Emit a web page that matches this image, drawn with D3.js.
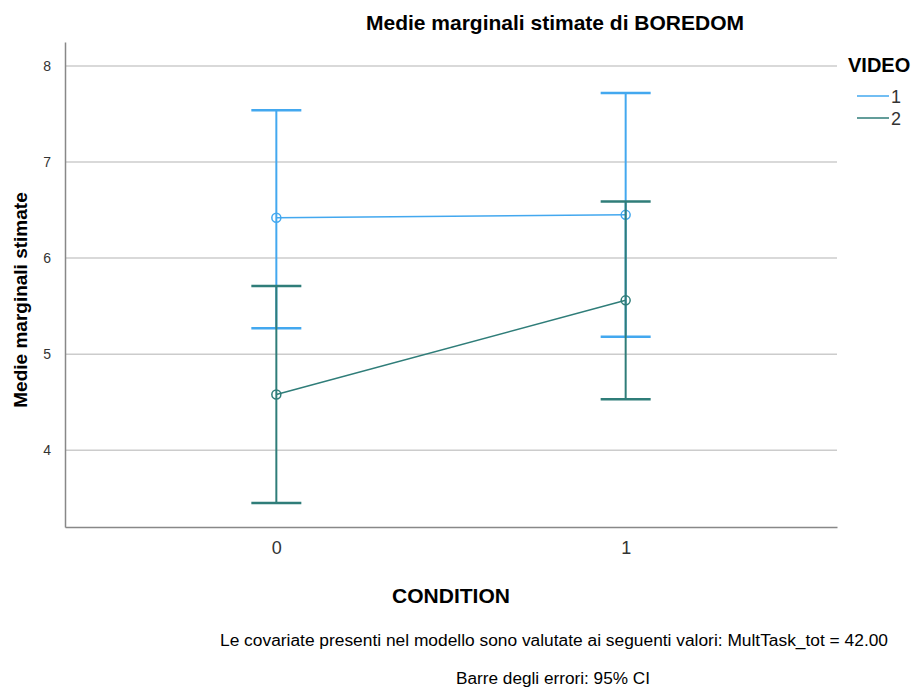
<!DOCTYPE html>
<html>
<head>
<meta charset="utf-8">
<script src="https://cdn.jsdelivr.net/npm/d3@7"></script>
<style>
  body { margin: 0; background: #fff; }
  text { font-family: "Liberation Sans", Arial, sans-serif; fill: #000; }
  .narrow { font-family: "Liberation Sans Narrow", "Liberation Sans", Arial, sans-serif; }
</style>
</head>
<body>
<div id="chart"></div>
<script>
// data
const conditions = [0, 1];
const videos = ["1", "2"];
const means = { "1": [6.42, 6.45], "2": [4.58, 5.56] };
const upper = { "1": [7.54, 7.72], "2": [5.71, 6.59] };
const lower = { "1": [5.27, 5.18], "2": [3.45, 4.53] };
const yTicks = [4, 5, 6, 7, 8];
const colors = { "1": "#43a8ef", "2": "#2f7d79" };

const W = 915, H = 688;
const margin = { left: 65, right: 78, top: 42, bottom: 161 };

const svg = d3.select("#chart").append("svg")
    .attr("width", W)
    .attr("height", H);

const x = d3.scaleLinear()
    .domain([-0.605, 1.605])
    .range([margin.left, W - margin.right]);
const y = d3.scaleLinear()
    .domain([3.2, 8.25])
    .range([H - margin.bottom, margin.top]);

// gridlines
svg.append("g").selectAll("line")
    .data(yTicks)
    .enter().append("line")
    .attr("x1", margin.left).attr("x2", W - margin.right)
    .attr("y1", d => y(d)).attr("y2", d => y(d))
    .attr("stroke", "#cccccc").attr("stroke-width", 1.5);

// axes
const yAxis = svg.append("g")
    .attr("transform", `translate(${margin.left},0)`)
    .call(d3.axisLeft(y).tickValues(yTicks).tickSize(0).tickPadding(14).tickFormat(d3.format("d")));
yAxis.select(".domain").attr("stroke", "#888").attr("stroke-width", 1.5);
yAxis.selectAll("text").style("font-size", "14px").style("fill", "#333");

const xAxis = svg.append("g")
    .attr("transform", `translate(0,${H - margin.bottom})`)
    .call(d3.axisBottom(x).tickValues(conditions).tickSize(0).tickPadding(14).tickFormat(d3.format("d")));
xAxis.select(".domain").attr("stroke", "#888").attr("stroke-width", 1.5);
xAxis.selectAll("text").style("font-size", "18px").style("fill", "#333");

// series
videos.forEach(v => {
    const pts = conditions.map((c, i) => ({ c: c, m: means[v][i], lo: lower[v][i], hi: upper[v][i] }));
    const g = svg.append("g");
    g.append("path")
        .datum(pts)
        .attr("fill", "none")
        .attr("stroke", colors[v])
        .attr("stroke-width", 1.5)
        .attr("d", d3.line().x(d => x(d.c)).y(d => y(d.m)));
    g.selectAll(".bar").data(pts).enter().append("line")
        .attr("x1", d => x(d.c)).attr("x2", d => x(d.c))
        .attr("y1", d => y(d.lo)).attr("y2", d => y(d.hi))
        .attr("stroke", colors[v]).attr("stroke-width", 2);
    ["lo", "hi"].forEach(k => {
        g.selectAll(".cap" + k).data(pts).enter().append("line")
            .attr("x1", d => x(d.c) - 25).attr("x2", d => x(d.c) + 25)
            .attr("y1", d => y(d[k])).attr("y2", d => y(d[k]))
            .attr("stroke", colors[v]).attr("stroke-width", 2.5);
    });
    g.selectAll("circle").data(pts).enter().append("circle")
        .attr("cx", d => x(d.c)).attr("cy", d => y(d.m))
        .attr("r", 4.5)
        .attr("fill", "none")
        .attr("stroke", colors[v]).attr("stroke-width", 1.5);
});

// titles
svg.append("text")
    .attr("x", 555).attr("y", 30)
    .attr("text-anchor", "middle")
    .style("font-size", "21px").style("font-weight", "bold")
    .text("Medie marginali stimate di BOREDOM");

svg.append("text")
    .attr("transform", "translate(27,300) rotate(-90)")
    .attr("text-anchor", "middle")
    .style("font-size", "19px").style("font-weight", "bold")
    .text("Medie marginali stimate");

svg.append("text")
    .attr("x", 451).attr("y", 603)
    .attr("text-anchor", "middle")
    .style("font-size", "21px").style("font-weight", "bold")
    .text("CONDITION");

// legend
const legend = svg.append("g").attr("transform", "translate(848,0)");
legend.append("text")
    .attr("x", 0).attr("y", 72)
    .style("font-size", "20px").style("font-weight", "bold")
    .text("VIDEO");
videos.forEach((v, i) => {
    legend.append("line")
        .attr("x1", 9).attr("x2", 41)
        .attr("y1", 96 + i * 22).attr("y2", 96 + i * 22)
        .attr("stroke", colors[v]).attr("stroke-width", 1.5);
    legend.append("text")
        .attr("x", 43).attr("y", 103 + i * 22)
        .style("font-size", "18px").style("fill", "#333")
        .text(v);
});

// footnotes
svg.append("text")
    .attr("class", "narrow")
    .attr("x", 554).attr("y", 646)
    .attr("text-anchor", "middle")
    .attr("textLength", 668).attr("lengthAdjust", "spacingAndGlyphs")
    .style("font-size", "16px")
    .text("Le covariate presenti nel modello sono valutate ai seguenti valori: MultTask_tot = 42.00");
svg.append("text")
    .attr("class", "narrow")
    .attr("x", 553).attr("y", 684)
    .attr("text-anchor", "middle")
    .attr("textLength", 194).attr("lengthAdjust", "spacingAndGlyphs")
    .style("font-size", "16px")
    .text("Barre degli errori: 95% CI");
</script>
</body>
</html>
